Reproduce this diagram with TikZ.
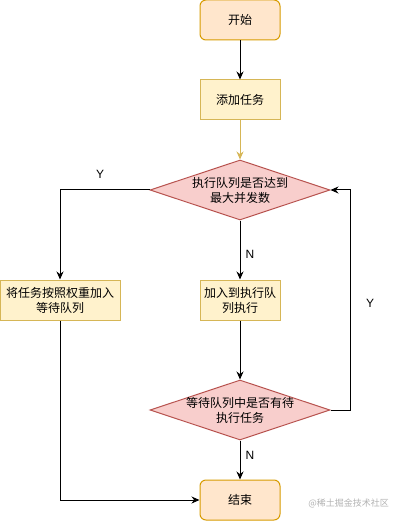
\documentclass[tikz,border=0pt]{standalone}
\usepackage{fontspec}
\setmainfont{Liberation Sans}
\newfontfamily\cjk{Noto Sans CJK SC}
\usetikzlibrary{shapes.geometric,arrows.meta}
\definecolor{termfill}{HTML}{FFE6CC}
\definecolor{termdraw}{HTML}{D79B00}
\definecolor{procfill}{HTML}{FFF2CC}
\definecolor{procdraw}{HTML}{D6B656}
\definecolor{decfill}{HTML}{F8CECC}
\definecolor{decdraw}{HTML}{B85450}
\tikzset{
  x=1pt,y=-1pt,
  base/.style={font=\cjk\fontsize{12}{15}\selectfont, align=center, line width=1pt, inner sep=0pt},
  term/.style={base, draw=termdraw, fill=termfill, rounded corners=6pt, minimum width=80pt, minimum height=40pt},
  proc/.style={base, draw=procdraw, fill=procfill, minimum width=80pt, minimum height=40pt},
  dec/.style={base, draw=decdraw, fill=decfill, diamond, aspect=3, minimum width=180pt, minimum height=60pt},
  dectext/.style={base},
  conn/.style={line width=1pt, -{Stealth[length=8pt,width=7pt]}},
  lbl/.style={font=\fontsize{12}{14}\selectfont, inner sep=0pt}
}
\begin{document}
\begin{tikzpicture}
\useasboundingbox (0,0) rectangle (401,521);
\node[term] (start) at (240,20) {开始};
\node[proc] (add) at (240,100) {添加任务};
\node[dec] (d1) at (240,190) {};
\node[dectext] (d1t) at (d1.center) {执行队列是否达到\\最大并发数};
\node[proc, minimum width=120pt] (wait) at (60,300) {将任务按照权重加入\\等待队列};
\node[proc] (exec) at (240,300) {加入到执行队\\列执行};
\node[dec] (d2) at (240,410) {};
\node[dectext] (d2t) at (d2.center) {等待队列中是否有待\\执行任务};
\node[term] (end) at (240,500) {结束};
\coordinate (r1) at (350,190);
\coordinate (r2) at (350,410);
\coordinate (l1) at (60,500);
\draw[conn] (start) -- (add);
\draw[conn, draw=procdraw, -{Stealth[length=8pt,width=7pt,fill=procdraw]}] (add) -- (d1);
\draw[conn] (d1.west) -| (wait.north);
\draw[conn] (d1.south) -- (exec.north);
\draw[conn] (exec.south) -- (d2.north);
\draw[conn] (d2.east) -- (r2) -- (r1) -- (d1.east);
\draw[conn] (d2.south) -- (end.north);
\draw[conn] (wait.south) -- (l1) -- (end.west);
\node[lbl] (y1) at (100,174) {Y};
\node[lbl] (n1) at (250,254) {N};
\node[lbl] (y2) at (370,303) {Y};
\node[lbl] (n2) at (250,455) {N};
\node[font=\cjk\fontsize{9}{10}\selectfont, text=black!30, anchor=east, inner sep=0pt] (wm) at (389,503) {@稀土掘金技术社区};
\end{tikzpicture}
\end{document}
